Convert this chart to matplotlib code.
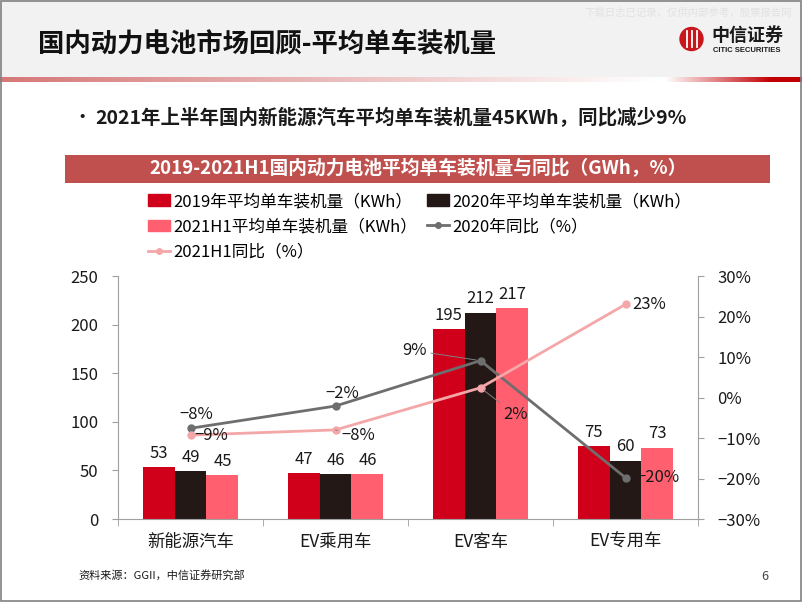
import numpy as np
import matplotlib.pyplot as plt
from matplotlib.patches import Rectangle, Circle, Patch
from matplotlib.lines import Line2D
from matplotlib.ticker import PercentFormatter

plt.rcParams['font.family'] = ['Noto Sans CJK SC', 'DejaVu Sans']

categories = ['新能源汽车', 'EV乘用车', 'EV客车', 'EV专用车']
kwh_2019 = [53, 47, 195, 75]
kwh_2020 = [49, 46, 212, 60]
kwh_2021h1 = [45, 46, 217, 73]
yoy_2020 = [-0.076, -0.021, 0.091, -0.198]
yoy_2021h1 = [-0.093, -0.080, 0.024, 0.230]
left_ticks = [0, 50, 100, 150, 200, 250]
right_ticks = [-0.3, -0.2, -0.1, 0.0, 0.1, 0.2, 0.3]

RED = '#D0001A'
DARK = '#231815'
PINK = '#FF5F6F'
GRAY_LINE = '#6E6E6E'
PINK_LINE = '#F4A7A8'
TXT = '#1A1A1A'

W, H = 802, 602
fig = plt.figure(figsize=(W / 100, H / 100), dpi=100)

# slide decoration, drawn in pixel coordinates
bg = fig.add_axes([0, 0, 1, 1])
bg.axis('off')
bg.add_patch(Rectangle((0, 0), W, 77, color='#F2F2F2', lw=0))

# red gradient rule under the header
xs = np.arange(W)
r = np.interp(xs, [0, 655, 665, 770, W], [0.84, 1.0, 1.0, 0.76, 0.76])
g = np.interp(xs, [0, 655, 665, 770, W], [0.47, 1.0, 1.0, 0.0, 0.0])
b = np.interp(xs, [0, 655, 665, 770, W], [0.47, 1.0, 1.0, 0.02, 0.02])
grad = np.dstack([r, g, b])
bg.imshow(grad, extent=(0, W, 82, 77), aspect='auto', interpolation='bilinear')
bg.set_xlim(0, W)
bg.set_ylim(H, 0)
bg.add_patch(Rectangle((0.5, 0.5), W - 1.5, H - 2, fill=False, ec='#808080', lw=1.2))

bg.text(38, 45, '国内动力电池市场回顾-平均单车装机量', fontsize=19, fontweight='bold',
        va='center', color='#111111')
bg.text(584, 13, '下载日志已记录，仅供内部参考，股票报告网', fontsize=7.5,
        color='#E2E2E2', va='center')

# logo
bg.add_patch(Circle((691.5, 39), 11.5, color='#C8161D'))
for lx in [686.5, 691.5, 696.5]:
    bg.plot([lx, lx], [31, 47], color='white', lw=1.3)
bg.text(747, 35, '中信证券', fontsize=13, fontweight='bold', ha='center',
        va='center', color='#1A1A1A')
bg.text(747, 51, 'CITIC SECURITIES', fontsize=5.5, fontweight='bold', ha='center',
        va='center', color='#1A1A1A', family='Liberation Sans')

bg.text(72, 118, '•', fontsize=14, va='center', color=TXT)
bg.text(95, 118, '2021年上半年国内新能源汽车平均单车装机量45KWh，同比减少9%',
        fontsize=14, fontweight='bold', va='center', color=TXT)

bg.add_patch(Rectangle((65, 155), 705, 28, color='#C0504D', lw=0))
bg.text(418, 169, '2019-2021H1国内动力电池平均单车装机量与同比（GWh，%）',
        fontsize=13.5, fontweight='bold', color='white', ha='center', va='center')

bg.text(78, 575, '资料来源：GGII，中信证券研究部', fontsize=8, va='center', color=TXT)
bg.text(765, 577, '6', fontsize=9, va='center', ha='center', color='#444444')

# chart
ax = fig.add_axes([118 / W, 1 - 519 / H, 580 / W, 243 / H])
x = np.arange(len(categories))
w = 0.22
b1 = ax.bar(x - w, kwh_2019, w, color=RED)
b2 = ax.bar(x, kwh_2020, w, color=DARK)
b3 = ax.bar(x + w, kwh_2021h1, w, color=PINK)
for bars in (b1, b2, b3):
    ax.bar_label(bars, padding=4, fontsize=12, color=TXT)

ax.set_xlim(-0.5, 3.5)
ax.set_ylim(0, 250)
ax.set_yticks(left_ticks)
ax.set_xticks(x, categories)
ax.set_xticks(np.arange(-0.5, 4.0, 1.0), minor=True)
ax.tick_params(axis='x', which='major', length=0, pad=10, labelsize=12.5, labelcolor=TXT)
ax.tick_params(axis='x', which='minor', length=5, color='#A0A0A0')
ax.tick_params(axis='y', length=4, pad=10, labelsize=12, labelcolor=TXT, color='#A0A0A0')
for s in ['top', 'right']:
    ax.spines[s].set_visible(False)
for s in ['left', 'bottom']:
    ax.spines[s].set_color('#A0A0A0')

ax2 = ax.twinx()
ax2.set_ylim(-0.3, 0.3)
ax2.set_yticks(right_ticks)
ax2.yaxis.set_major_formatter(PercentFormatter(1.0, decimals=0))
ax2.tick_params(axis='y', length=4, pad=10, labelsize=12, labelcolor=TXT, color='#A0A0A0')
for s in ['top', 'left', 'bottom']:
    ax2.spines[s].set_visible(False)
ax2.spines['right'].set_color('#A0A0A0')

ax2.plot(x, yoy_2020, color=GRAY_LINE, lw=2, marker='o', ms=5)
ax2.plot(x, yoy_2021h1, color=PINK_LINE, lw=2, marker='o', ms=5)

def pct(v):
    return f'{v:.0%}'.replace('-', '−')

gray_offsets = [(6, 14), (7, 13), (-66, 10), (32, 0)]
pink_offsets = [(21, 0), (23, -6), (35, -27), (24, 0)]
gray_leader = [False, False, True, False]
pink_leader = [False, True, True, False]

for xi, v, off, lead in zip(x, yoy_2020, gray_offsets, gray_leader):
    ap = dict(arrowstyle='-', color='#808080', lw=0.7, shrinkA=1, shrinkB=3) if lead else None
    ax2.annotate(pct(v), (xi, v), xytext=off, textcoords='offset pixels',
                 ha='center', va='center', fontsize=12, color=TXT, arrowprops=ap)
for xi, v, off, lead in zip(x, yoy_2021h1, pink_offsets, pink_leader):
    ap = dict(arrowstyle='-', color='#808080', lw=0.7, shrinkA=1, shrinkB=3) if lead else None
    ax2.annotate(pct(v), (xi, v), xytext=off, textcoords='offset pixels',
                 ha='center', va='center', fontsize=12, color=TXT, arrowprops=ap)

handles = [
    Patch(color=RED, label='2019年平均单车装机量（KWh）'),
    Patch(color=PINK, label='2021H1平均单车装机量（KWh）'),
    Line2D([], [], color=PINK_LINE, lw=2, marker='o', ms=4, label='2021H1同比（%）'),
    Patch(color=DARK, label='2020年平均单车装机量（KWh）'),
    Line2D([], [], color=GRAY_LINE, lw=2, marker='o', ms=4, label='2020年同比（%）'),
]
fig.legend(handles=handles, ncol=2, loc='upper left', bbox_to_anchor=(148 / W, 1 - 193 / H),
           frameon=False, fontsize=12, handlelength=1.3, handletextpad=0.2,
           columnspacing=0.6, labelspacing=0.5, borderpad=0, borderaxespad=0)

fig.savefig('out.png', dpi=100)
